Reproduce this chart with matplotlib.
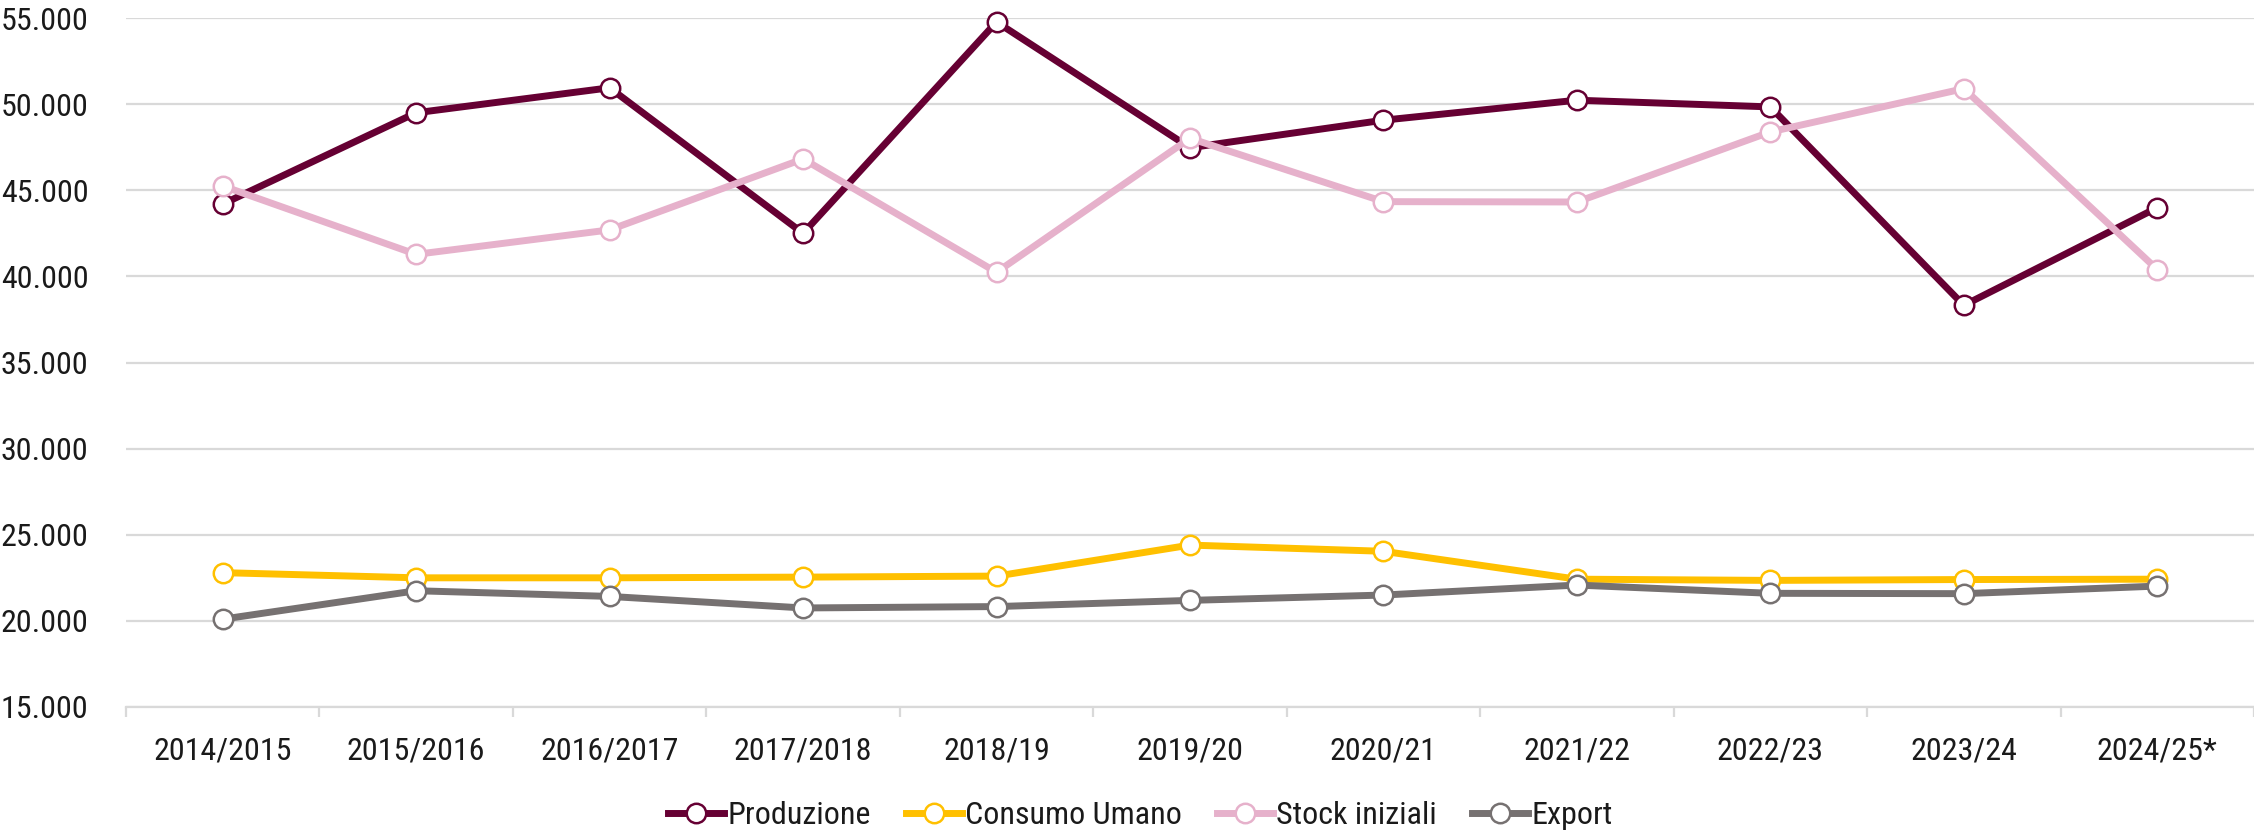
import matplotlib
matplotlib.use("Agg")
from matplotlib import pyplot as plt
from matplotlib import font_manager
from matplotlib.ticker import FuncFormatter, FixedLocator

# Dati (migliaia di tonnellate)
campagne = ["2014/2015", "2015/2016", "2016/2017", "2017/2018", "2018/19", "2019/20",
            "2020/21", "2021/22", "2022/23", "2023/24", "2024/25*"]
produzione = [44200, 49500, 50950, 42500, 54770, 47470, 49070, 50230, 49840, 38320, 43990]
consumo_umano = [22800, 22500, 22500, 22540, 22600, 24400, 24040, 22420, 22350, 22400, 22420]
stock_iniziali = [45250, 41280, 42700, 46820, 40240, 48020, 44340, 44320, 48390, 50900, 40400]
export = [20100, 21750, 21420, 20750, 20830, 21190, 21500, 22080, 21600, 21580, 22020]

nomi_serie = ["Produzione", "Consumo Umano", "Stock iniziali", "Export"]
colori = ["#660033", "#FFC000", "#E6B1CB", "#767171"]

# font stretto se disponibile, altrimenti Liberation Sans un po' più piccolo
nomi_font = {f.name for f in font_manager.fontManager.ttflist}
stretti = [n for n in ["Liberation Sans Narrow", "Arial Narrow", "Roboto Condensed"] if n in nomi_font]
if stretti:
    font, fs = stretti[0], 23
else:
    font, fs = "Liberation Sans", 19
plt.rcParams['font.family'] = [font, 'DejaVu Sans']
plt.rcParams['text.color'] = "#1a1a1a"

fig = plt.figure(figsize=(22.54, 8.35), dpi=100)
ax = fig.add_axes([0.0559, 0.1533, 0.9441, 0.8251])

x = list(range(len(campagne)))
for valori, nome, col in zip([produzione, consumo_umano, stock_iniziali, export], nomi_serie, colori):
    ax.plot(x, valori, color=col, lw=5, marker="o", markersize=14,
            markerfacecolor="white", markeredgecolor=col, markeredgewidth=1.8,
            label=nome, solid_joinstyle="round", clip_on=False)

ax.set_xlim(-0.5, len(campagne) - 0.5)
ax.set_ylim(15000, 55000)
ax.set_yticks(range(15000, 55001, 5000))
ax.yaxis.set_major_formatter(FuncFormatter(lambda v, p: f"{int(v):,}".replace(",", ".")))
ax.grid(axis="y", color="#D9D9D9", lw=1.6)
ax.set_axisbelow(True)

ax.set_xticks(x)
ax.set_xticklabels(campagne)
ax.xaxis.set_minor_locator(FixedLocator([i - 0.5 for i in range(len(campagne) + 1)]))
ax.tick_params(axis="x", which="major", length=0, pad=21, labelsize=fs, labelcolor="#1a1a1a")
ax.tick_params(axis="x", which="minor", length=7, width=1.6, color="#D9D9D9")
ax.tick_params(axis="y", length=0, pad=27, labelsize=fs, labelcolor="#1a1a1a")

for s in ["top", "right", "left"]:
    ax.spines[s].set_visible(False)
ax.spines["bottom"].set_color("#D9D9D9")
ax.spines["bottom"].set_linewidth(1.6)

fig.legend(loc="center", bbox_to_anchor=(0.506, 0.023), ncol=4, frameon=False,
           fontsize=fs, handlelength=1.75, handletextpad=0.1, columnspacing=1.1)

fig.savefig("out.png", dpi=100)
